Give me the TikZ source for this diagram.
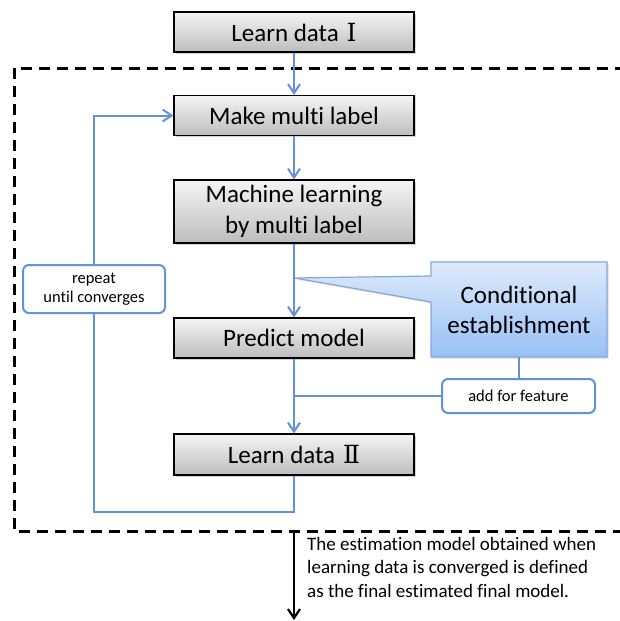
\documentclass[tikz,border=0pt]{standalone}
\usepackage{fontspec}
\setmainfont{Carlito}[Ligatures=NoCommon]
\newfontfamily\numfont{DejaVu Serif}
\usetikzlibrary{arrows.meta,shadows,positioning}

\definecolor{flowblue}{RGB}{98,146,220}
\definecolor{callborder}{RGB}{130,168,222}
\definecolor{calltop}{RGB}{222,234,251}
\definecolor{callbottom}{RGB}{152,192,246}

\tikzset{
  stepbox/.style={draw=black, line width=1.2pt, minimum width=240pt,
    top color=white!96!black, bottom color=black!26,
    drop shadow={shadow xshift=1.5pt, shadow yshift=-1.5pt, opacity=0.35},
    font=\fontsize{25}{31}\selectfont, align=center, inner sep=0pt},
  notebox/.style={draw=flowblue, line width=2pt, rounded corners=6pt, fill=white,
    font=\fontsize{16.5}{19}\selectfont, align=center, inner sep=0pt},
  flow/.style={draw=flowblue, line width=2pt},
  flowarrow/.style={flow, -{Straight Barb[length=9pt,width=12pt,line width=2pt]}},
  frame/.style={draw=black, line width=3pt, dash pattern=on 11pt off 7pt},
}

\begin{document}
\begin{tikzpicture}[x=1pt,y=-1pt]
\useasboundingbox (0,0) rectangle (619,621);

% outer dashed frame (its right side lies past the page edge)
\draw[frame] (14,68) rectangle (640,531);

% process steps
\node[stepbox, minimum height=40pt] (learn1)  at (294,32)    {Learn data\hspace{8pt}{\numfont Ⅰ}};
\node[stepbox, minimum height=40pt] (make)    at (294,115.5) {Make multi label};
\node[stepbox, minimum height=63pt] (machine) at (294,211.5) {Machine learning\\by multi label};
\node[stepbox, minimum height=40pt] (predict) at (294,338)   {Predict model};
\node[stepbox, minimum height=41pt] (learn2)  at (294,454.5) {Learn data\hspace{8pt}{\numfont Ⅱ}};

% side notes
\node[notebox, minimum width=142pt, minimum height=48pt] (repeat) at (94,289) {repeat\\until converges};
\node[notebox, minimum width=153pt, minimum height=34pt] (addf) at (518.5,396) {add for feature};

% callout with pointer onto the flow line
\coordinate (tip) at (295,278);
\coordinate (cnw) at (431,262);
\coordinate (cse) at (607,357);
\path[top color=calltop, bottom color=callbottom, draw=callborder, line width=1.2pt,
      drop shadow={shadow xshift=1.5pt, shadow yshift=-1.5pt, opacity=0.25}]
  (cnw) -- (cnw -| cse) -- (cse) -- (cnw |- cse) -- (431,302) -- (tip) -- (431,276) -- cycle;
\node[font=\fontsize{25}{30}\selectfont, align=center, inner sep=0pt,
      minimum width=176pt, minimum height=95pt] (cond) at (519,309.5) {Conditional\\establishment};

% main flow
\draw[flowarrow] (learn1.south) -- (make.north);
\draw[flowarrow] (make.south) -- (machine.north);
\draw[flowarrow] (machine.south) -- (predict.north);
\draw[flowarrow] (predict.south) -- (learn2.north);

% feedback loop
\coordinate (loopc) at (94,512);
\draw[flow] (learn2.south) |- (loopc) -- (repeat.south);
\draw[flowarrow] (repeat.north) |- (make.west);

% feature branch
\draw[flow] (cond.south) -- (cond.south |- addf.north);
\draw[flow] (addf.west) -- (addf.west -| learn2.north);

% final output
\coordinate (outtop) at (294,533);
\coordinate (outend) at (294,620);
\draw[line width=2.2pt, -{Straight Barb[length=9pt,width=12pt,line width=2.2pt]}] (outtop) -- (outend);
\node[anchor=west, align=left, inner sep=0pt, font=\fontsize{19}{23.5}\selectfont] (outtext) at (307,567)
  {The estimation model obtained when\\learning data is converged is defined\\as the final estimated final model.};
\end{tikzpicture}
\end{document}
